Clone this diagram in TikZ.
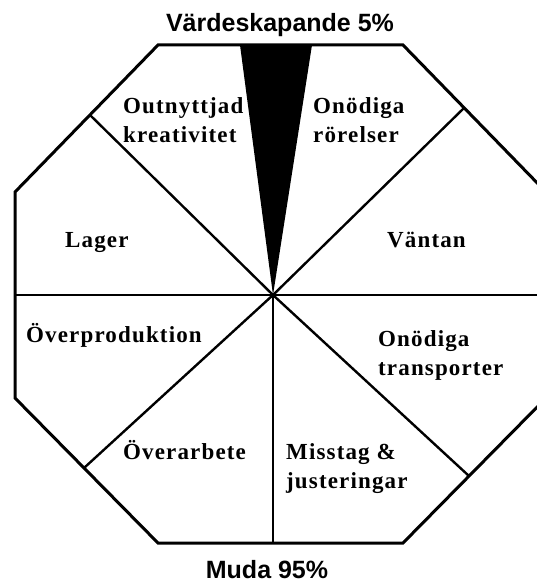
\documentclass[tikz,border=0pt]{standalone}
\usepackage{fontspec}
\setmainfont{Liberation Serif}
\newfontfamily\titlefont{Liberation Sans}
\newfontfamily\lblfont[LetterSpace=5]{Liberation Serif}
\begin{document}
\begin{tikzpicture}[x=1pt,y=-1pt,
  outline/.style={draw=black,line width=3pt,line join=miter},
  spoke/.style={draw=black,line width=2.4pt},
  wedge/.style={fill=black},
  title/.style={inner sep=0pt,font=\titlefont\bfseries\fontsize{25}{30}\selectfont},
  lbl/.style={inner sep=0pt,anchor=base west,align=left,font=\lblfont\bfseries\fontsize{23}{29}\selectfont}]
\clip (0,0) rectangle (537,586);
\fill[white] (0,0) rectangle (537,586);
% octagon vertices
\coordinate (A) at (158,45);
\coordinate (B) at (403,45);
\coordinate (C) at (546,192);
\coordinate (D) at (546,398);
\coordinate (E) at (403,543);
\coordinate (F) at (158,543);
\coordinate (G) at (15,398);
\coordinate (H) at (15,192);
% centre and spoke ends
\coordinate (O) at (273,295);
\coordinate (ul) at (90,115);
\coordinate (ur) at (464,108);
\coordinate (lf) at (15,295);
\coordinate (rt) at (546,295);
\coordinate (ll) at (84,468);
\coordinate (lr) at (469,476);
\coordinate (dn) at (273,543);
\coordinate (wl) at (240,45);
\coordinate (wr) at (312,45);
% spokes
\draw[spoke] (O) -- (ul);
\draw[spoke] (O) -- (ur);
\draw[spoke] (O) -- (lf);
\draw[spoke] (O) -- (rt);
\draw[spoke] (O) -- (ll);
\draw[spoke] (O) -- (lr);
\draw[spoke] (O) -- (dn);
% black wedge
\path[wedge] (wl) -- (wr) -- (O) -- cycle;
% octagon outline
\draw[outline] (A) -- (B) -- (C) -- (D) -- (E) -- (F) -- (G) -- (H) -- cycle;
% titles
\node[title,anchor=base] (top) at (280,32) {Värdeskapande 5\%};
\node[title,anchor=base] (bottom) at (267,578) {Muda 95\%};
% labels (base = baseline of last line)
\node[lbl] (outn) at (123,142) {Outnyttjad\\kreativitet};
\node[lbl] (onrr) at (313,142) {Onödiga\\rörelser};
\node[lbl] (lager) at (65,247) {Lager};
\node[lbl] (vant) at (387,247) {Väntan};
\node[lbl] (overp) at (26,342) {Överproduktion};
\node[lbl] (ontr) at (378,375) {Onödiga\\transporter};
\node[lbl] (overa) at (123,459) {Överarbete};
\node[lbl] (miss) at (286,488) {Misstag \&\\justeringar};
\end{tikzpicture}
\end{document}
